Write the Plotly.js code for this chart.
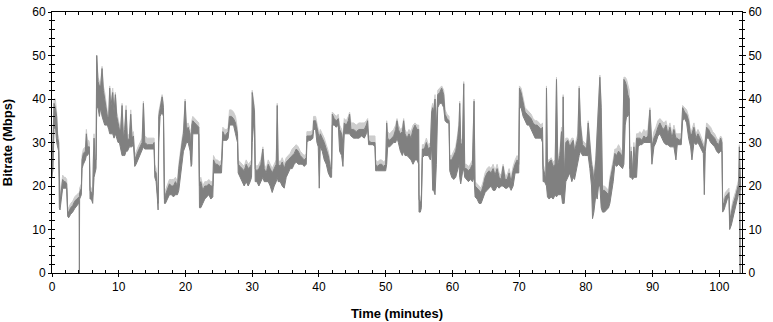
<!DOCTYPE html>
<html>
<head>
<meta charset="utf-8">
<script src="https://cdn.plot.ly/plotly-3.0.1.min.js"></script>
<style>html,body{margin:0;padding:0;background:#fff;}#chart{width:773px;height:322px;}</style>
</head>
<body>
<div id="chart"></div>
<script>
// Time (minutes) of each sample
const timeMin = [0.0,0.15,0.3,0.5,0.7,0.85,1.0,1.1,1.2,1.4,1.6,1.8,2.0,2.2,2.35,2.5,2.8,3.1,3.4,3.7,4.0,4.06,4.1,4.14,4.4,4.5,4.7,5.0,5.15,5.3,5.5,5.6,5.7,5.9,6.1,6.2,6.3,6.45,6.6,6.7,6.9,7.1,7.3,7.5,7.7,7.9,8.1,8.3,8.5,8.65,8.8,9.1,9.3,9.5,9.7,9.9,10.1,10.3,10.5,10.7,10.9,11.1,11.3,11.6,11.8,12.0,12.2,12.4,12.6,12.9,13.2,13.5,13.7,13.9,14.3,14.7,15.1,15.3,15.4,15.6,15.8,15.9,16.0,16.2,16.5,16.7,16.85,17.0,17.3,17.6,17.9,18.2,18.5,18.8,19.0,19.2,19.5,19.7,19.95,20.15,20.4,20.7,20.85,20.95,21.1,21.4,21.7,22.0,22.1,22.3,22.6,22.9,23.2,23.5,23.8,24.1,24.2,24.5,24.8,25.1,25.4,25.6,25.9,26.2,26.4,26.6,26.9,27.2,27.5,27.8,27.9,28.2,28.5,28.8,29.1,29.4,29.7,29.9,30.0,30.2,30.35,30.45,30.7,31.0,31.3,31.6,31.8,32.1,32.4,32.7,33.0,33.3,33.6,33.75,33.9,34.2,34.5,34.8,35.1,35.4,35.7,36.0,36.3,36.6,36.9,37.2,37.5,37.8,38.1,38.2,38.5,38.8,39.1,39.2,39.5,39.7,39.9,40.05,40.2,40.5,40.8,41.1,41.4,41.7,41.9,42.0,42.3,42.6,42.9,43.1,43.4,43.6,43.8,44.1,44.4,44.6,44.8,45.2,45.6,46.0,46.4,46.8,47.1,47.3,47.45,47.8,48.1,48.4,48.5,48.8,49.1,49.4,49.7,50.0,50.15,50.3,50.6,50.9,51.2,51.5,51.7,51.9,52.2,52.5,52.7,52.9,53.2,53.5,53.8,54.1,54.4,54.7,54.95,55.0,55.2,55.35,55.5,55.8,56.1,56.4,56.7,56.9,57.05,57.2,57.4,57.6,57.8,58.1,58.4,58.7,58.9,59.2,59.5,59.6,59.9,60.2,60.5,60.8,61.0,61.1,61.25,61.5,61.7,61.85,62.1,62.4,62.7,63.0,63.25,63.4,63.7,64.0,64.3,64.6,64.9,65.2,65.5,65.8,66.1,66.4,66.7,67.0,67.3,67.6,67.9,68.2,68.5,68.8,69.1,69.4,69.7,69.95,70.05,70.3,70.6,70.9,71.2,71.5,71.8,72.1,72.4,72.7,73.0,73.3,73.5,73.6,73.8,74.0,74.1,74.25,74.5,74.8,75.1,75.4,75.6,75.8,76.1,76.35,76.5,76.6,76.75,77.0,77.3,77.6,77.9,78.1,78.3,78.6,78.8,79.0,79.2,79.5,79.8,80.1,80.35,80.6,80.85,81.0,81.2,81.5,81.7,81.9,82.1,82.3,82.5,82.8,83.1,83.4,83.6,83.9,84.1,84.35,84.6,84.9,85.2,85.5,85.7,85.9,86.1,86.3,86.5,86.6,86.8,87.0,87.2,87.4,87.6,87.85,88.1,88.4,88.7,89.0,89.3,89.6,89.75,89.9,90.2,90.5,90.8,91.1,91.4,91.7,92.0,92.3,92.6,92.9,93.2,93.5,93.7,94.0,94.3,94.5,94.8,95.1,95.4,95.7,95.9,96.2,96.5,96.8,97.1,97.4,97.6,97.75,97.9,98.1,98.4,98.7,99.0,99.3,99.6,99.9,100.2,100.4,100.5,100.7,100.9,101.2,101.45,101.55,101.8,102.1,102.4,102.7,102.9,103.0,103.1,103.2];
// Lower edge of the bitrate trace (Mbps)
const rateLow = [22,24,33,34,30,29,28,15,14.5,17,19.5,19.5,19.5,19.5,13,12.7,13.5,14,14.8,15.5,16,16.5,0,17,18,24,25,26,27,27,27.5,28,17,17,16,21,22,23,24,38,38,36,38,36,35,34,34,34,33,32,32,32,31,32,31,30,30,28,27,27,27,28,28,29,29,29,30,24.5,25,26,27,28,29,28.5,28.5,28.5,28.5,28.5,22,21,17,14.5,30,36,37,36,16,16,17,18,18,17.5,18,18,19,22,26,28,29,30,30,28,24.5,25,32,32,32,32,15,15,16,17,17.5,18,17,17.5,23,23,23,23,23,30.5,30.5,30.5,31,34,34,34,32,30,23,22,21,20,21,20,21,22,30,34,34,21,21,20,21,22,21,21,21,20,18.5,20,21,22,21,21,20,19.5,22,23,24,24,25,25.5,25,25,25,24.5,25,30,30.5,30.5,31,33,33,30,29,19.5,29,28,26,25,23,22,22,34,34,33.5,34,28,27,24.5,32,32,32,32,31.5,31,31,31,31.5,31,32,33,29.5,29.5,29.5,29,23.5,23.5,23.5,23.5,23.5,23.5,25,29,29,29.5,30,30,31,30,28,27,28,27,27,26.5,26,25,26,26,25,14,14,15,26.5,27,27,27,26,29,19,19,18,25,38,39,39,38,35,34.5,34.5,23.5,22,21.5,22,24,25,22,20.5,23,24,22,21.5,21,21.5,21,22,17.5,17,16,16,17.5,18.5,19,19.5,20,19,19,20,19.5,20,20,19.5,19.5,20,19,20,23,23,23,38,38,36,35,34,34,33,32,31,31,31,31,30,21,21,20,20,17.5,17,17.5,17,18,17.5,18,18,18,16,16,16,21,22,23,21,22,21.5,24,26,27,28,27,27,27,27,24,20,12.5,14,18,17,20,20,15,14,14,14.5,15,16,19,21,25,24.5,25,24.5,24,25,34,36,36,37,22,22,21.5,22,22,22,29,29.5,29.5,30,30,30,30,30,25,29,30,31.5,32,31,30,29.5,29.5,29,29,29,26,29.5,29.5,29.5,35,35.5,34.5,31,29,26,30,29.5,30,29,28,27.5,18,28,31,31,30,29.5,29,28,27.5,28,28,14,14.5,15.5,17,17.5,10,11,13,15,17,18,19,0,0];
// Upper edge of the bitrate trace (Mbps)
const rateHigh = [26,30,39,38,36,31,30,16,16,19,21.5,21,21,20.5,14,14,15,15.5,16.5,17,17.5,17.5,17.5,18.5,19.5,26,27.5,28,32,29,29,29,19,18.5,18,26,31,26,26,50,44,43,43,47,42,40,38,36,36,42.5,38,41.5,37,41,36,34,33,33,38.5,31,33,37.5,30.5,31,36.5,31,31.5,26,27,28,29,30,39,30,29.5,29.5,29.5,30,23.5,23,19,16,36,38,40.5,38,17,18,19.5,20.5,20,20,21,20,24,27,30,32,39.5,33,33.5,32,26,34,35,34.5,34,33.5,20,21,19,20,20,20.5,20,20,26,25,25,24.5,25,32.5,31.5,32,32.5,36,36,35.5,34.5,32,25,24.5,24,23.5,25,24,24.5,25,41.5,38,37,24,23.5,24,25,28.5,24,23,25,24,23,24,25,38.5,25,24.5,25.5,24,25.5,26,26.5,27,27.5,28.5,28,27,26.5,26,26.5,31.5,31.5,31.5,32,35,35,33,32,31,32,31,30,28.5,27,24.5,24,36.5,35.5,35,35.5,33,32,30,34.5,34,35,36.5,33,33,32.5,33,33,33,34,35,30.5,30,30,30,25,24.5,25,25,24.5,25,34.5,31,30.5,31,31.5,33,35,33,32,32.5,35,32,31,32,31,33,34,33,33,17,16,17,28.5,28.5,30,28.5,29,37,38,37,40,33,41,41.5,42.5,41,36.5,35.5,35,26,26,27,28,31,34,39,30,29,43.5,24,24,23.5,24,25,39.5,20,19.5,19,18.5,20,22,23,23.5,23,24,22.5,24,22,21.5,24.5,21.5,21.5,23,21,23.5,25,26,25,42.5,41.5,39,37,36.5,36,35.5,34.5,34,34,33.5,33,33.5,24,23,21.5,42.5,25,25.5,26,24.5,25,44.5,25,27,32.5,27,40.5,22,30,30.5,29,30,30.5,28,30,31,42.5,34,29.5,29,28.5,34.5,29,25,24,21,26,33,40,45,38,19,19,18.5,18,21,23,25,27.5,27,28,27.5,26.5,44.5,44,43,41,40,24,28,23,29,25,31,31,31,30.5,31.5,31,31.5,37.5,32,29,31,32,33.5,34.5,33.5,33,34,32,33.5,31,33,31,31,30.5,31,38,37,36.5,35,31.5,32,33.5,31,32,31,30,29,28,30,33.5,33,32,31.5,31,30,29.5,31,30,16,16,17.5,18,18.5,12,14,16,17.5,19.5,20.5,29,20,19];
// Light grey peak envelope above the trace (Mbps)
const ratePeak = [27,31,40,40,37,32,31,17,17,20,22.5,22,22,21.5,15,15,16,16.5,17.5,18,18.5,18.5,18.5,19.5,20.5,27,28.5,29,33,30.5,30.5,30,20,19.5,19,27,32,27,27,50,45,44,44,47.5,43,41.5,39.5,37,37,43,39,42.5,38,41.5,37,35,34,34,39,32,34,38.5,31.5,32,37.5,32,32.5,27,28,29,30,31,39.5,31.5,31,31,31,31,25,24,20,17,37,39,41,39,18,19,20.5,21.5,21.5,21.5,22,21,25,28,31,33,40,34,34.5,33,27,35,36,35.5,35,34.5,21,22,20,21,21,21.5,21,21,27,26,26,25.5,26,33.5,33,33,33.5,37.5,37.5,37,36,33,26,25.5,25,24.5,26,25,25.5,26,42,39,38,25,24.5,25,26,29,25,24,26,25,24,25,26,39,26,25.5,26.5,25,26.5,27,27.5,28.5,29,29.5,29,28,27.5,27,27.5,32.5,32.5,32.5,33,36,36,34,33,32,33,32,31,29.5,28,25.5,25,37,36.5,36,36.5,34,33,31,35.5,35,36,37,34.5,34.5,34,34.5,34.5,34.5,35,35.5,31.5,31.5,31.5,31.5,26,25.5,26,26,25.5,26,35,32.5,32,32.5,33,34,35.5,34,33,33.5,35.5,33,32,33,32.5,34,34.5,34,34,18,17,18,29.5,29.5,31,29.5,30,38,39,38,41,34,42,42.5,43,42,37.5,36.5,36,27,27,28,29,32,35,39.5,31,30,44,25,25,24.5,25,26,40,21,20.5,20,19.5,21,23,24,24.5,24,25,23.5,25,23,22.5,25,22.5,22.5,24,22,24.5,26,27,26,43,42.5,40,38,37.5,37,36.5,35.5,35,35,34.5,34,34.5,25,24,22.5,43,26,26,26.5,25.5,26,45,26,28,33.5,28,41,23,31,31,30,31,31,29,31,32,43,35,30.5,30,29.5,35,30,26,25,22,27,34,41,45.5,39,20,20,19.5,19,22,24,26,28.5,28.5,29.5,28.5,27.5,45,45,44.5,43,42,25,29,24,30,26,32,32,32.5,32,33,32.5,33,38,33,30,32.5,33.5,35,35.5,35,34.5,35,33,34.5,32,34,32,32,32,32,38.5,38,37.5,36,32.5,33,34.5,32,33,32,31,30,29,31,34.5,34,33.5,32.5,32,31,30.5,31.5,31,17,17,18.5,19,19.5,13,15,17,18.5,20.5,21.5,29.5,21,20];
const xTicks = [0,10,20,30,40,50,60,70,80,90,100];
const yTicks = [0,10,20,30,40,50,60];

const dark = '#808080', light = '#cdcdcd';
const traces = [
  {x: timeMin, y: rateHigh, mode: 'lines', line: {width: 0, color: light}, hoverinfo: 'skip', showlegend: false},
  {x: timeMin, y: ratePeak, mode: 'lines', fill: 'tonexty', fillcolor: light, line: {width: 1, color: light}, showlegend: false},
  {x: timeMin, y: rateLow, mode: 'lines', line: {width: 1, color: dark}, showlegend: false},
  {x: timeMin, y: rateHigh, mode: 'lines', fill: 'tonexty', fillcolor: dark, line: {width: 1, color: dark}, showlegend: false},
  {x: [], y: [], xaxis: 'x2', yaxis: 'y', showlegend: false},
  {x: [], y: [], xaxis: 'x', yaxis: 'y2', showlegend: false},
  {x: [], y: [], xaxis: 'x', yaxis: 'y3', showlegend: false}
];
const font = {family: 'Liberation Sans, Arial, sans-serif', size: 12, color: '#000'};
const titleFont = {family: 'Liberation Sans, Arial, sans-serif', size: 13, color: '#000'};
const xr = [0, 103.4], yr = [0, 60];
const layout = {
  width: 773, height: 322,
  margin: {l: 52, r: 31, t: 12, b: 49},
  paper_bgcolor: '#fff', plot_bgcolor: '#fff',
  font: font, showlegend: false,
  xaxis: {range: xr, tickvals: xTicks, showticklabels: false, ticks: 'inside', ticklen: 3, tickcolor: '#000',
    minor: {dtick: 2, ticks: 'inside', ticklen: 3, tickcolor: '#000'},
    showline: true, linecolor: '#000', linewidth: 1, mirror: 'allticks', showgrid: false, zeroline: false, fixedrange: true},
  xaxis2: {range: xr, overlaying: 'x', anchor: 'y', side: 'bottom', tickvals: xTicks, ticktext: xTicks.map(String),
    ticks: 'outside', ticklen: 3, tickcolor: '#000', showline: false, showgrid: false, zeroline: false,
    tickfont: font, automargin: false, title: {text: '<b>Time (minutes)</b>', font: titleFont, standoff: 15}},
  yaxis: {range: yr, tickvals: yTicks, showticklabels: false, ticks: 'inside', ticklen: 3, tickcolor: '#000',
    minor: {dtick: 2, ticks: 'inside', ticklen: 2, tickcolor: '#000'},
    showline: true, linecolor: '#000', linewidth: 1, mirror: 'allticks', showgrid: false, zeroline: false, fixedrange: true},
  yaxis2: {range: yr, overlaying: 'y', anchor: 'x', side: 'left', tickvals: yTicks, ticktext: yTicks.map(String),
    ticks: 'outside', ticklen: 3, tickcolor: '#000', minor: {dtick: 2, ticks: 'outside', ticklen: 2, tickcolor: '#000'},
    showline: false, showgrid: false, zeroline: false, tickfont: font, automargin: false,
    title: {text: '<b>Bitrate (Mbps)</b>', font: titleFont, standoff: 16}},
  yaxis3: {range: yr, overlaying: 'y', anchor: 'x', side: 'right', tickvals: yTicks, ticktext: yTicks.map(String),
    ticks: 'outside', ticklen: 3, tickcolor: '#000', minor: {dtick: 2, ticks: 'outside', ticklen: 2, tickcolor: '#000'},
    showline: false, showgrid: false, zeroline: false, tickfont: font, automargin: false}
};
Plotly.newPlot('chart', traces, layout, {staticPlot: true, displayModeBar: false});
</script>
</body>
</html>
